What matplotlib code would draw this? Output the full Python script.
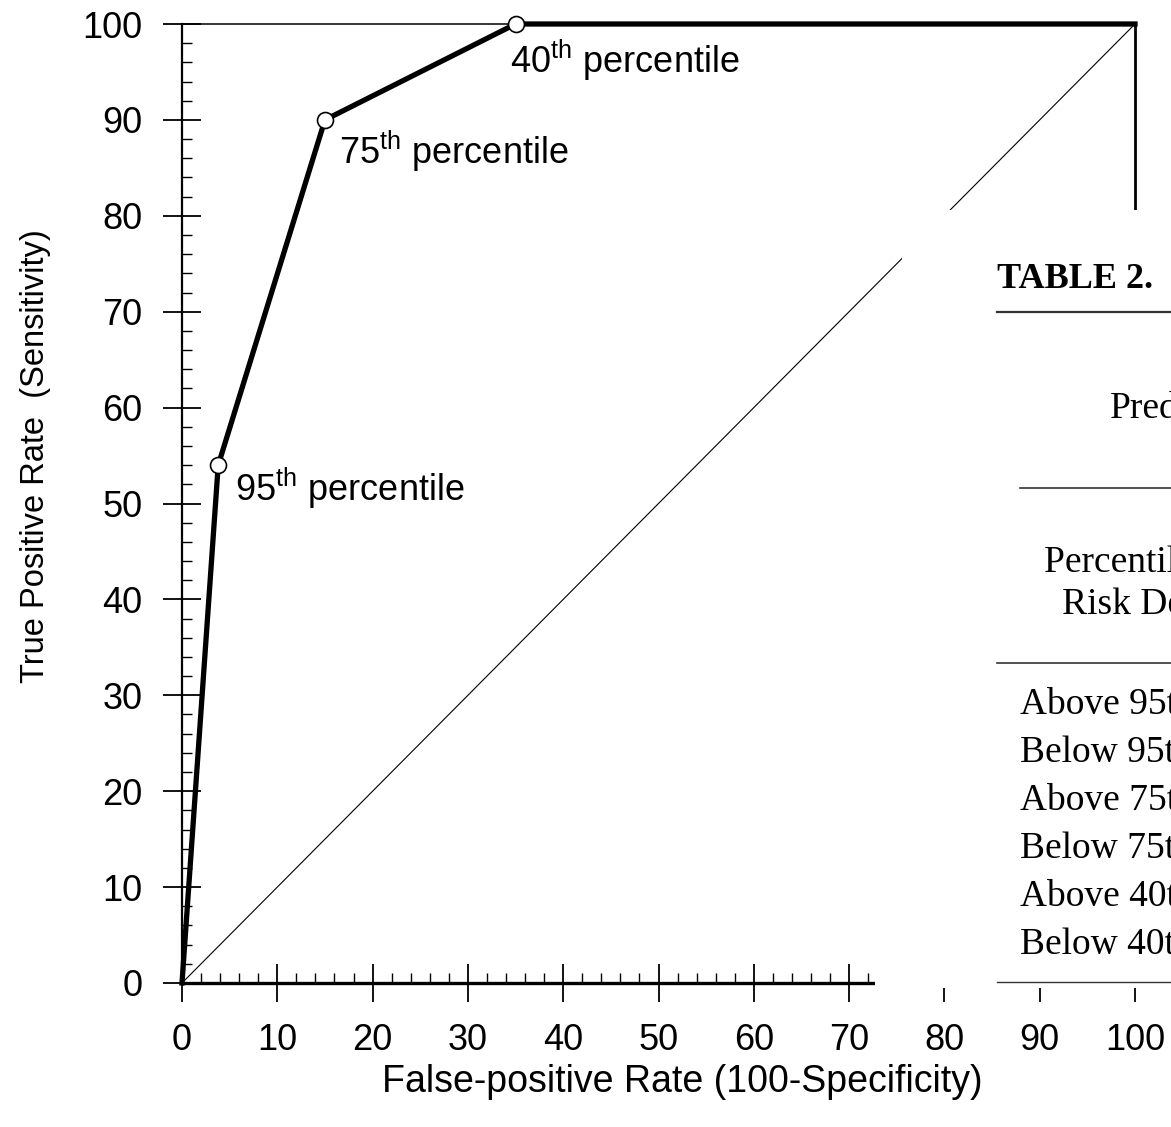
import matplotlib
matplotlib.use("Agg")
import matplotlib.pyplot as plt
from matplotlib.patches import Rectangle
from matplotlib.lines import Line2D
from matplotlib.ticker import MultipleLocator
import numpy as np

# data
fpr = [0, 3.8, 15, 35, 100]
tpr = [0, 54, 90, 100, 100]
pt_x = [3.8, 15, 35]
pt_y = [54, 90, 100]
pt_labels = ["95", "75", "40"]
lab_x = [5.6, 16.5, 34.4]
lab_y = [51.6, 86.7, 96.2]

table_rows = ["Above 95th percentile", "Below 95th percentile",
              "Above 75th percentile", "Below 75th percentile",
              "Above 40th percentile", "Below 40th percentile"]

plt.rcParams['font.family'] = ['Liberation Sans', 'DejaVu Sans']
plt.rcParams['mathtext.fontset'] = 'custom'
plt.rcParams['mathtext.rm'] = 'Liberation Sans'
plt.rcParams['mathtext.it'] = 'Liberation Sans'

W, H = 1171, 1127
fig = plt.figure(figsize=(W / 100, H / 100), dpi=100)

def fx(px):
    return px / W

def fy(py):
    return 1 - py / H

ax = fig.add_axes([fx(182), fy(983), 953 / W, 959 / H])
ax.set_xlim(0, 100)
ax.set_ylim(0, 100)

# chance line
ax.plot([0, 100], [0, 100], color='black', lw=0.8, zorder=2)
# ROC curve
ax.plot(fpr, tpr, color='black', lw=3.8, solid_joinstyle='miter', zorder=3, clip_on=False)
ax.plot(pt_x, pt_y, 'o', ms=11.5, mfc='white', mec='black', mew=1.2, zorder=4, clip_on=False)
for x, y, p in zip(lab_x, lab_y, pt_labels):
    ax.text(x, y, p + r"$^{\mathrm{th}}$ percentile", fontsize=26, va='center', ha='left')

ax.xaxis.set_major_locator(MultipleLocator(10))
ax.yaxis.set_major_locator(MultipleLocator(10))
ax.xaxis.set_minor_locator(MultipleLocator(2))
ax.yaxis.set_minor_locator(MultipleLocator(2))
ax.tick_params(which='major', direction='inout', length=27, width=1.3, labelsize=26, pad=15)
ax.tick_params(which='minor', direction='in', length=7.5, width=1)

ax.spines['bottom'].set_linewidth(2.4)
ax.spines['left'].set_linewidth(1.6)
ax.spines['top'].set_linewidth(1.1)
ax.spines['right'].set_linewidth(2.0)

fig.text(fx(682), fy(1082), "False-positive Rate (100-Specificity)", fontsize=27,
         ha='center', va='center')
fig.text(fx(36), fy(456), "True Positive Rate  (Sensitivity)", fontsize=23.5,
         ha='center', va='center', rotation=90)

# pasted table fragment covering the lower right of the plot
fig.patches.append(Rectangle((fx(902), fy(988)), fx(W) - fx(902), fy(210) - fy(988),
                             transform=fig.transFigure, facecolor='white',
                             edgecolor='none', zorder=5))
fig.patches.append(Rectangle((fx(875), fy(988)), fx(W) - fx(875), fy(960) - fy(988),
                             transform=fig.transFigure, facecolor='white',
                             edgecolor='none', zorder=5))

serif = ['Liberation Serif', 'DejaVu Serif']
fig.text(fx(997), fy(288), "TABLE 2.", fontsize=26, fontweight='bold', family=serif,
         ha='left', va='baseline', zorder=6)
fig.text(fx(1110), fy(418), "Predicted", fontsize=27, family=serif,
         ha='left', va='baseline', zorder=6)
fig.text(fx(1044), fy(572), "Percentile of", fontsize=27, family=serif,
         ha='left', va='baseline', zorder=6)
fig.text(fx(1062), fy(614), "Risk Determinant", fontsize=27, family=serif,
         ha='left', va='baseline', zorder=6)
row_y = [705, 753, 801, 849, 897, 945]
for ry, txt in zip(row_y, table_rows):
    fig.text(fx(1020), fy(ry), txt, fontsize=27, family=serif,
             ha='left', va='center', zorder=6)

for (x0, yy, lw) in [(997, 312, 1.6), (1020, 488, 1.2), (997, 663, 1.2), (997, 982, 1.0)]:
    fig.add_artist(Line2D([fx(x0), 1.0], [fy(yy), fy(yy)], transform=fig.transFigure,
                          color='#333333', lw=lw, zorder=6))

fig.savefig("out.png", dpi=100)
